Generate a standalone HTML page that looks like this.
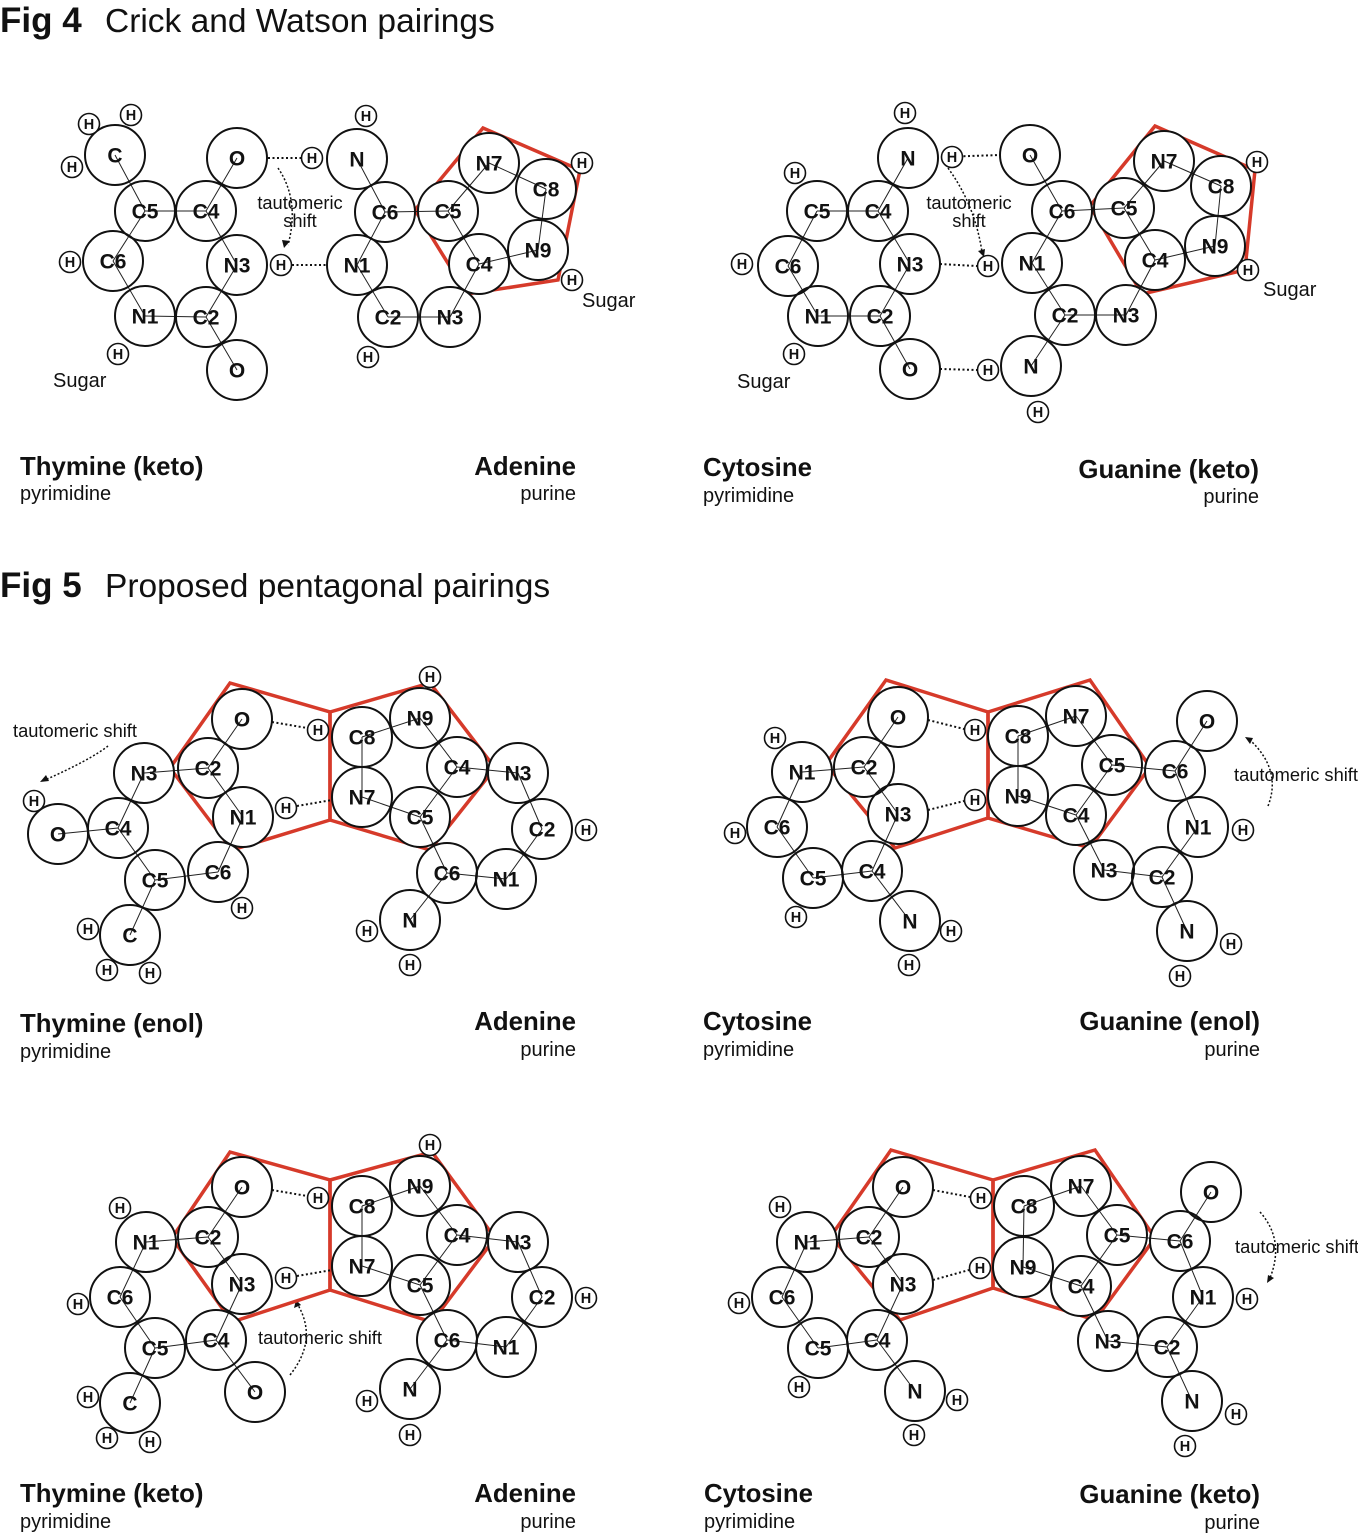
<!DOCTYPE html>
<html><head><meta charset="utf-8"><style>
html,body{margin:0;padding:0;background:#fff;width:1358px;height:1540px;overflow:hidden}
svg{display:block}
text{font-family:"Liberation Sans",Arial,sans-serif;fill:#111}
</style></head><body>
<svg id="s" width="1358" height="1540" viewBox="0 0 1358 1540" xmlns="http://www.w3.org/2000/svg">
<text x="0" y="32" font-size="35" font-weight="bold">Fig 4</text>
<text x="105" y="32" font-size="33.5">Crick and Watson pairings</text>
<text x="0" y="597" font-size="35" font-weight="bold">Fig 5</text>
<text x="105" y="597" font-size="33.5">Proposed pentagonal pairings</text>

<g font-size="25.8" font-weight="bold">
<text x="20" y="475">Thymine (keto)</text>
<text x="576" y="475" text-anchor="end">Adenine</text>
<text x="703" y="476">Cytosine</text>
<text x="1259" y="478" text-anchor="end">Guanine (keto)</text>
<text x="20" y="1032">Thymine (enol)</text>
<text x="576" y="1030" text-anchor="end">Adenine</text>
<text x="703" y="1030">Cytosine</text>
<text x="1260" y="1030" text-anchor="end">Guanine (enol)</text>
<text x="20" y="1502">Thymine (keto)</text>
<text x="576" y="1502" text-anchor="end">Adenine</text>
<text x="704" y="1502">Cytosine</text>
<text x="1260" y="1503" text-anchor="end">Guanine (keto)</text>
</g>
<g font-size="20">
<text x="20" y="500">pyrimidine</text>
<text x="576" y="500" text-anchor="end">purine</text>
<text x="703" y="502">pyrimidine</text>
<text x="1259" y="503" text-anchor="end">purine</text>
<text x="20" y="1058">pyrimidine</text>
<text x="576" y="1056" text-anchor="end">purine</text>
<text x="703" y="1056">pyrimidine</text>
<text x="1260" y="1056" text-anchor="end">purine</text>
<text x="20" y="1528">pyrimidine</text>
<text x="576" y="1528" text-anchor="end">purine</text>
<text x="704" y="1528">pyrimidine</text>
<text x="1260" y="1529" text-anchor="end">purine</text>
<text x="53" y="387">Sugar</text>
<text x="582" y="307">Sugar</text>
<text x="737" y="388">Sugar</text>
<text x="1263" y="296">Sugar</text>
</g>
<g font-size="18.3">
<text x="300" y="209" text-anchor="middle">tautomeric</text>
<text x="300" y="227" text-anchor="middle">shift</text>
<text x="969" y="209" text-anchor="middle">tautomeric</text>
<text x="969" y="227" text-anchor="middle">shift</text>
<text x="13" y="737">tautomeric shift</text>
<text x="1234" y="781">tautomeric shift</text>
<text x="258" y="1344">tautomeric shift</text>
<text x="1235" y="1253">tautomeric shift</text>
</g>
<g fill="none" stroke="#111" stroke-width="1.5" stroke-dasharray="2,2">
<path d="M278 168 Q300 200 288 245"/>
<path d="M948 168 Q975 205 982 252"/>
<path d="M108 746 Q90 760 45 780"/>
<path d="M1268 806 Q1282 770 1250 740"/>
<path d="M290 1375 Q318 1340 298 1305"/>
<path d="M1260 1212 Q1285 1240 1270 1278"/>
</g>
<g fill="#111">
<path d="M284 248 l-2 -8 l8 1z"/>
<path d="M984 257 l-6 -6 l7 -2z"/>
<path d="M40 782 l6 -7 l3 6z"/>
<path d="M1245 737 l8 1 l-3 6z"/>
<path d="M296 1300 l-2 8 l7 -3z"/>
<path d="M1267 1283 l1 -8 l6 3z"/>
</g>
<g id="red" fill="none" stroke="#d63a2a" stroke-width="3.5" stroke-linejoin="miter"></g>
<g id="bonds" stroke="#222" stroke-width="1"></g>
<g id="hb" stroke="#111" stroke-width="2" stroke-dasharray="2,2.5"></g>
<g id="atoms"></g>
</svg>
<script>
var NS="http://www.w3.org/2000/svg";
function el(p,t,a,txt){var e=document.createElementNS(NS,t);for(var k in a)e.setAttribute(k,a[k]);if(txt)e.textContent=txt;document.getElementById(p)?document.getElementById(p).appendChild(e):p.appendChild(e);return e;}
var panels=[
"C 115 155;H 89 124;H 131 115;H 72 167;O 237 158;C5 145 211;C4 206 211;C6 113 261;H 70 262;N3 237 265;H 281 265;N1 145 316;C2 206 317;H 118 354;O 237 370;H 312 158;N 357 159;H 366 116;C6 385 212;N1 357 265;C2 388 317;H 368 357;N3 450 317;C5 448 211;N7 489 163;C8 546 189;N9 538 250;C4 479 264;H 582 163;H 572 280",
"H 905 113;N 908 158;H 952 157;O 1030 155;H 795 173;C5 817 211;C4 878 211;C6 788 266;H 742 264;N3 910 264;H 988 266;N1 1032 263;C2 1065 315;N3 1126 315;C6 1062 211;C5 1124 208;N7 1164 161;C8 1221 186;N9 1215 246;C4 1155 260;H 1257 162;H 1248 270;N1 818 316;C2 880 316;H 794 354;O 910 369;H 988 370;N 1031 366;H 1038 412",
"O 242 719;H 318 730;C8 362 737;N9 420 718;H 430 677;C2 208 768;N3 144 773;C4 457 767;N3 518 773;N1 243 817;H 286 808;N7 362 797;C5 420 817;C4 118 828;O 58 834;H 34 801;C6 218 872;C5 155 880;C6 447 873;N1 506 879;C2 542 829;H 586 830;H 242 908;C 130 935;H 88 929;H 107 970;H 150 973;N 410 920;H 367 931;H 410 965",
"H 775 738;N1 802 772;C2 864 767;O 898 717;H 975 730;C8 1018 736;N7 1076 716;C5 1112 765;C6 1175 771;O 1207 721;N3 898 814;H 975 800;N9 1018 796;C4 1076 815;N1 1198 827;H 1243 830;C6 777 827;H 735 833;C5 813 878;C4 872 871;N3 1104 870;C2 1162 877;H 796 917;N 910 921;H 951 931;H 909 965;N 1187 931;H 1231 944;H 1180 976",
"O 242 1187;H 318 1198;C8 362 1206;N9 420 1186;H 430 1145;C2 208 1237;N1 146 1242;H 120 1208;C4 457 1235;N3 518 1242;N3 242 1284;H 286 1278;N7 362 1266;C5 420 1285;C6 120 1297;H 78 1304;C4 216 1340;C5 155 1348;O 255 1392;C6 447 1340;N1 506 1347;C2 542 1297;H 586 1298;C 130 1403;H 88 1397;H 107 1438;H 150 1442;N 410 1389;H 367 1401;H 410 1435",
"H 780 1207;N1 807 1242;C2 869 1237;O 903 1187;H 981 1198;C8 1024 1206;N7 1081 1186;C5 1117 1235;C6 1180 1241;O 1211 1192;N3 903 1284;H 980 1268;N9 1023 1267;C4 1081 1286;N1 1203 1297;H 1247 1299;C6 782 1297;H 739 1303;C5 818 1348;C4 877 1340;N3 1108 1341;C2 1167 1347;H 799 1387;N 915 1391;H 957 1400;H 914 1435;N 1192 1401;H 1236 1414;H 1185 1446"
];
var atoms=document.getElementById("atoms"),bonds=document.getElementById("bonds");
panels.forEach(function(p){
 var A=p.split(";").map(function(s){var q=s.split(" ");return {l:q[0],x:+q[1],y:+q[2]};});
 var big=A.filter(function(a){return a.l!="H";});
 for(var i=0;i<big.length;i++)for(var j=i+1;j<big.length;j++){
  var d=Math.hypot(big[i].x-big[j].x,big[i].y-big[j].y);
  if(d<70) el(bonds,"line",{x1:big[i].x,y1:big[i].y,x2:big[j].x,y2:big[j].y});
 }
 A.forEach(function(a){
  var h=a.l=="H";
  el(atoms,"circle",{cx:a.x,cy:a.y,r:h?10.5:30,fill:h?"#fff":"none",stroke:"#111","stroke-width":h?1.6:2});
  el(atoms,"text",{x:a.x,y:a.y+(h?5:7.5),"text-anchor":"middle","font-size":h?14.5:21,"font-weight":"bold"},a.l);
 });
});
var bg=document.createElementNS(NS,"g");
document.getElementById("s").insertBefore(bg,bonds);
panels.forEach(function(p){p.split(";").forEach(function(s){var q=s.split(" ");if(q[0]!="H")el(bg,"circle",{cx:q[1],cy:q[2],r:30,fill:"#fff"});});});
var hb=[[268,158,301,158],[292,265,327,265],[941,157,1000,155],[940,264,977,266],[940,369,977,370],
[272,722,307,728],[297,806,332,800],[928,720,964,729],[928,810,964,801],
[272,1190,307,1196],[297,1276,332,1270],[933,1190,970,1197],[933,1280,969,1270]];
hb.forEach(function(l){el("hb","line",{x1:l[0],y1:l[1],x2:l[2],y2:l[3]});});
var pent=["483,128 580,170 558,280 467,294 415,210","1155,126 1255,170 1245,270 1142,294 1090,206",
"230,683 330,712 330,820 232,850 170,768","330,712 430,683 495,768 430,850 330,820",
"886,680 988,712 988,818 895,848 826,764","988,712 1090,680 1150,767 1090,848 988,818",
"230,1152 330,1180 330,1290 232,1322 172,1238","330,1180 432,1152 495,1238 432,1322 330,1290",
"891,1150 993,1180 993,1288 900,1320 831,1236","993,1180 1095,1150 1155,1238 1095,1320 993,1288"];
pent.forEach(function(p){el("red","polygon",{points:p});});
</script>
</body></html>
